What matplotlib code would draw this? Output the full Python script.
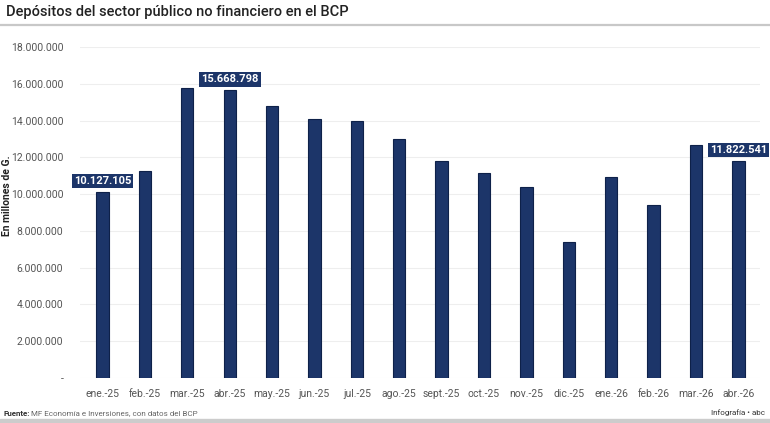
import numpy as np
import matplotlib
matplotlib.use("Agg")
import matplotlib.pyplot as plt
from matplotlib.ticker import FuncFormatter

# data (millones de G.)
months = ["ene.-25", "feb.-25", "mar.-25", "abr.-25", "may.-25", "jun.-25", "jul.-25", "ago.-25",
          "sept.-25", "oct.-25", "nov.-25", "dic.-25", "ene.-26", "feb.-26", "mar.-26", "abr.-26"]
deposits = [10127105, 11230000, 15780000, 15668798, 14800000, 14090000, 14000000, 12990000,
            11780000, 11160000, 10400000, 7410000, 10940000, 9420000, 12680000, 11822541]
labelled = [0, 3, 15]

navy = "#1c3569"
plt.rcParams["font.family"] = ["Roboto", "DejaVu Sans"]

fig = plt.figure(figsize=(7.7, 4.23), dpi=100)
ax = fig.add_axes([80 / 770, 1 - 378 / 423, 680 / 770, 331 / 423])

x = np.arange(len(months))
ax.bar(x, deposits, width=0.29, color=navy, edgecolor="#0e2149", linewidth=0.8, zorder=3)

ax.set_xlim(-0.53, len(months) - 0.49)
ax.set_ylim(0, 18000000)
ax.set_yticks(np.arange(0, 18000001, 2000000))
ax.yaxis.set_major_formatter(FuncFormatter(lambda v, p: "-" if v == 0 else f"{int(v):,}".replace(",", ".")))
ax.set_xticks(x)
ax.set_xticklabels(months)
ax.tick_params(axis="both", length=0, labelsize=7.5, labelcolor="#555555")
ax.tick_params(axis="y", pad=12)
ax.tick_params(axis="x", pad=8)
ax.grid(axis="y", color="#eeeeee", linewidth=0.8, zorder=0)
for s in ax.spines.values():
    s.set_visible(False)
ax.set_ylabel("En millones de G.", fontsize=7.5, fontweight="bold", color="#222222")
ax.yaxis.set_label_coords(-68 / 680, 0.55)

for i in labelled:
    v = deposits[i]
    ax.annotate(f"{v:,}".replace(",", "."), (i, v), xytext=(0, 4), textcoords="offset points",
                ha="center", va="bottom", fontsize=8, fontweight="bold", color="white", zorder=5,
                bbox=dict(boxstyle="square,pad=0.2", fc=navy, ec="none"))

# header / footer
fig.text(6 / 770, 1 - 12 / 423, "Depósitos del sector público no financiero en el BCP",
         fontsize=10.5, fontweight="medium", color="#222222", va="center", ha="left")
fig.add_artist(plt.Line2D([0, 1], [1 - 25 / 423, 1 - 25 / 423], color="#c8c8c8", linewidth=1.6))
fig.text(3 / 770, 1 - 413 / 423, "Fuente:", fontsize=5.8, fontweight="bold", color="#333333",
         va="center", ha="left")
fig.text(31 / 770, 1 - 413 / 423, "MF Economía e Inversiones, con datos del BCP", fontsize=5.8,
         color="#666666", va="center", ha="left")
fig.text(765 / 770, 1 - 413 / 423, "Infografía • abc", fontsize=5.8, color="#333333",
         va="center", ha="right")
fig.add_artist(plt.Rectangle((0, 0), 1, 4 / 423, color="#cccccc", transform=fig.transFigure))

fig.savefig("out.png", dpi=100)
